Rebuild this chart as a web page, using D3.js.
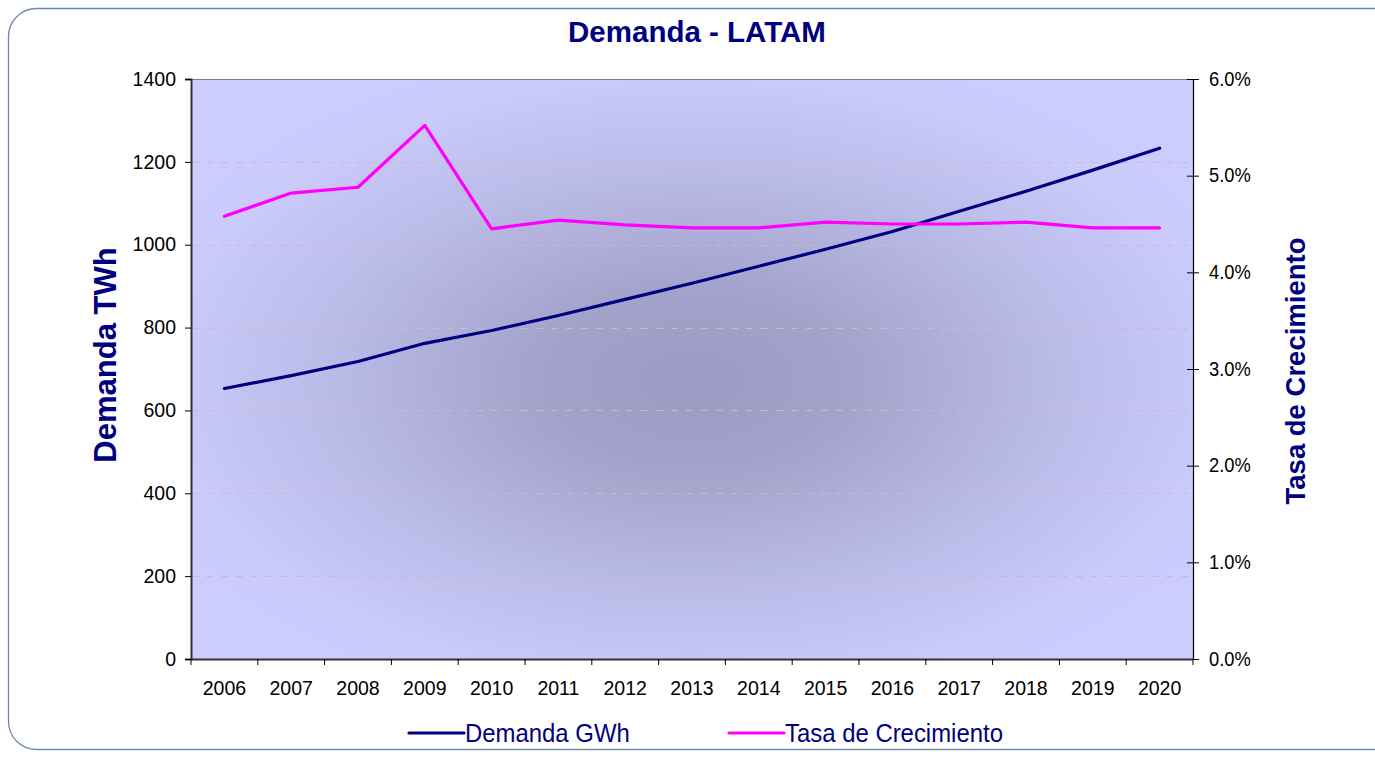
<!DOCTYPE html>
<html>
<head>
<meta charset="utf-8">
<script src="https://cdn.jsdelivr.net/npm/d3@7"></script>
<style>
  body { margin: 0; background: #fff; }
  svg { display: block; font-family: Arial, "Liberation Sans", sans-serif; }
</style>
</head>
<body>
<div id="chart"></div>
<script>
// data
var years = ["2006","2007","2008","2009","2010","2011","2012","2013","2014","2015","2016","2017","2018","2019","2020"];
var demanda = [653, 684, 718, 762, 793, 829, 868, 907, 948, 989, 1032, 1081, 1129, 1180, 1233];
var tasa = [0.0458, 0.0482, 0.0488, 0.0552, 0.0445, 0.0454, 0.0449, 0.0446, 0.0446, 0.0452, 0.0450, 0.0450, 0.0452, 0.0446, 0.0446];
var leftTicks = [0, 200, 400, 600, 800, 1000, 1200, 1400];
var rightTicks = [0, 0.01, 0.02, 0.03, 0.04, 0.05, 0.06];

var W = 1375, H = 758;
var margin = {top: 79, right: 182, bottom: 99, left: 191},
  width = W - margin.left - margin.right,
  height = H - margin.top - margin.bottom;

var svg = d3.select("#chart").append("svg")
  .attr("width", W).attr("height", H);

// outer rounded frame
svg.append("rect")
  .attr("x", 8.5).attr("y", 8.5)
  .attr("width", 1400).attr("height", 741)
  .attr("rx", 28)
  .attr("fill", "#fff")
  .attr("stroke", "#7088a8").attr("stroke-width", 1.3);

var defs = svg.append("defs");
var grad = defs.append("radialGradient")
  .attr("id", "bg")
  .attr("cx", "0.5").attr("cy", "0.52").attr("r", "0.62");
grad.append("stop").attr("offset", "0%").attr("stop-color", "#9a9ac2");
grad.append("stop").attr("offset", "25%").attr("stop-color", "#a2a2ca");
grad.append("stop").attr("offset", "60%").attr("stop-color", "#bcbce9");
grad.append("stop").attr("offset", "85%").attr("stop-color", "#cacafb");
grad.append("stop").attr("offset", "100%").attr("stop-color", "#ccccff");

var g = svg.append("g").attr("transform", `translate(${margin.left},${margin.top})`);

g.append("rect")
  .attr("width", width).attr("height", height)
  .attr("fill", "url(#bg)");

var x = d3.scaleBand().domain(years).range([0, width]);
var y = d3.scaleLinear().domain([0, 1400]).range([height, 0]);
var y2 = d3.scaleLinear().domain([0, 0.06]).range([height, 0]);

// dashed gridlines
g.append("g").selectAll("line")
  .data(leftTicks.filter(d => d > 0 && d < 1400))
  .join("line")
  .attr("x1", 0).attr("x2", width)
  .attr("y1", d => Math.round(y(d)) + 0.5).attr("y2", d => Math.round(y(d)) + 0.5)
  .attr("stroke", "#c0c0c0").attr("stroke-width", 1)
  .attr("stroke-dasharray", "7,8");

// top border line
g.append("line")
  .attr("x1", 0).attr("x2", width).attr("y1", 0.5).attr("y2", 0.5)
  .attr("stroke", "#808080").attr("stroke-width", 1);

// axes
var axL = g.append("g")
  .call(d3.axisLeft(y).tickValues(leftTicks).tickSize(6).tickPadding(9).tickFormat(d3.format("d")));
var axR = g.append("g").attr("transform", `translate(${width},0)`)
  .call(d3.axisRight(y2).tickValues(rightTicks).tickSize(6).tickPadding(10).tickFormat(d3.format(".1%")));
var axB = g.append("g").attr("transform", `translate(0,${height})`)
  .call(d3.axisBottom(x).tickSize(0).tickPadding(22));

// right ticks cross the axis
axR.selectAll(".tick line").attr("x1", -6);

// category boundary ticks on x axis
g.append("g").selectAll("line")
  .data(years.concat(["end"]))
  .join("line")
  .attr("x1", (d, i) => i < years.length ? x(d) : width)
  .attr("x2", (d, i) => i < years.length ? x(d) : width)
  .attr("y1", height).attr("y2", height + 6)
  .attr("stroke", "#000");

[axL, axR, axB].forEach(a => {
  a.selectAll("text").attr("font-size", 19.5).attr("fill", "#000")
    .attr("font-family", "Arial, 'Liberation Sans', sans-serif");
  a.selectAll(".domain").attr("stroke", "#333").attr("stroke-width", 2);
  a.selectAll(".tick line").attr("stroke", "#000");
});
axR.selectAll("text").attr("font-size", 19.5)
  .attr("transform", "scale(0.94,1)").attr("x", 17);
axR.select(".domain").attr("stroke", "#000").attr("stroke-width", 1.2);

// lines
var cx = d => x(d) + x.bandwidth() / 2;
g.append("path")
  .datum(years)
  .attr("fill", "none").attr("stroke", "#000080").attr("stroke-width", 3.2)
  .attr("stroke-linecap", "round").attr("stroke-linejoin", "round")
  .attr("d", d3.line().x(cx).y((d, i) => y(demanda[i])));
g.append("path")
  .datum(years)
  .attr("fill", "none").attr("stroke", "#ff00ff").attr("stroke-width", 3.2)
  .attr("stroke-linecap", "round").attr("stroke-linejoin", "round")
  .attr("d", d3.line().x(cx).y((d, i) => y2(tasa[i])));

// title
svg.append("text")
  .attr("x", 697).attr("y", 42)
  .attr("text-anchor", "middle")
  .attr("font-size", 29.5).attr("font-weight", "bold").attr("fill", "#000080")
  .text("Demanda - LATAM");

// axis titles
svg.append("text")
  .attr("transform", "translate(116,355) rotate(-90)")
  .attr("text-anchor", "middle")
  .attr("font-size", 31).attr("font-weight", "bold").attr("fill", "#000080")
  .text("Demanda TWh");
svg.append("text")
  .attr("transform", "translate(1305,371) rotate(-90)")
  .attr("text-anchor", "middle")
  .attr("font-size", 27.5).attr("font-weight", "bold").attr("fill", "#000080")
  .text("Tasa de Crecimiento");

// legend
var legend = [
  {name: "Demanda GWh", color: "#000080", x: 408},
  {name: "Tasa de Crecimiento", color: "#ff00ff", x: 728}
];
var lg = svg.append("g").selectAll("g").data(legend).join("g")
  .attr("transform", d => `translate(${d.x},733)`);
lg.append("line")
  .attr("x1", 1).attr("x2", 56).attr("y1", 0).attr("y2", 0)
  .attr("stroke", d => d.color).attr("stroke-width", 3.2).attr("stroke-linecap", "round");
lg.append("text")
  .attr("transform", "translate(57,9) scale(0.92,1)")
  .attr("font-size", 26).attr("fill", "#000080")
  .text(d => d.name);
</script>
</body>
</html>
